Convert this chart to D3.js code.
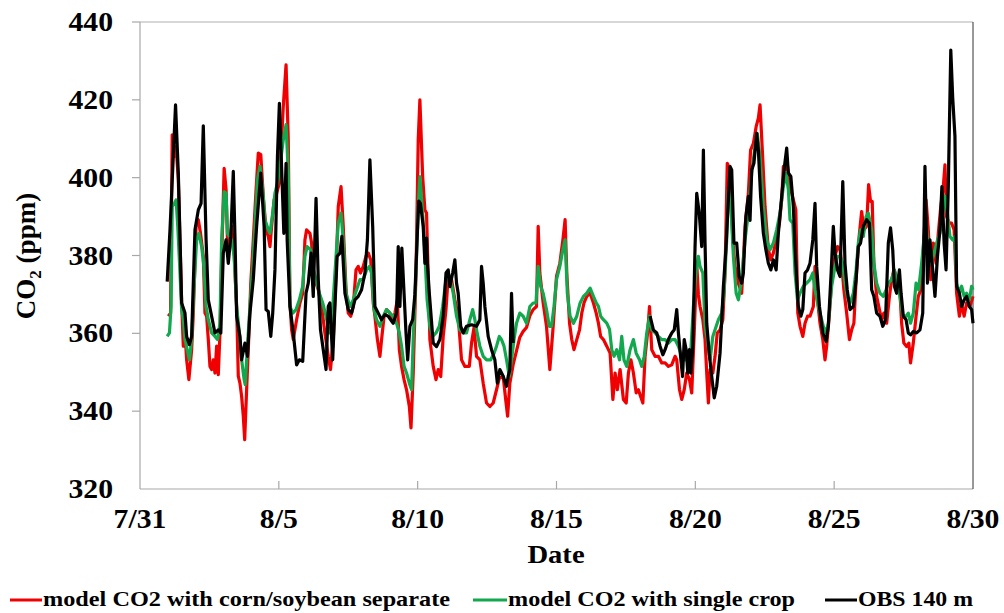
<!DOCTYPE html>
<html><head><meta charset="utf-8">
<script src="https://cdn.jsdelivr.net/npm/d3@7"></script>
<style>body{margin:0;background:#fff}svg{display:block}text{font-family:"Liberation Serif","Times New Roman",serif;font-weight:bold;fill:#000}</style>
</head><body>
<svg id="c" width="1004" height="613"></svg>
<script>
// ---- data (days since 7/31 00:00, CO2 ppm) ----
const xTickDays = [0, 5, 10, 15, 20, 25, 30];
const xTickLabels = ["7/31", "8/5", "8/10", "8/15", "8/20", "8/25", "8/30"];
const yTicks = [320, 340, 360, 380, 400, 420, 440];
const seriesNames = ["model CO2 with corn/soybean separate", "model CO2 with single crop", "OBS 140 m"];

const sepTime = [1.02,1.10,1.16,1.22,1.30,1.38,1.44,1.50,1.56,1.62,1.68,1.76,1.86,1.92,2.02,2.10,2.18,2.28,2.34,2.40,2.46,2.52,2.58,2.64,2.70,2.76,2.82,2.88,2.94,3.03,3.10,3.15,3.22,3.30,3.39,3.48,3.54,3.60,3.66,3.72,3.77,3.84,3.90,3.99,4.08,4.18,4.26,4.35,4.44,4.54,4.62,4.68,4.74,4.83,4.92,5.02,5.16,5.26,5.34,5.40,5.46,5.52,5.64,5.76,5.86,5.94,6.00,6.12,6.18,6.24,6.34,6.42,6.54,6.66,6.78,6.86,6.96,7.06,7.14,7.24,7.32,7.42,7.50,7.59,7.68,7.78,7.86,7.94,8.04,8.14,8.22,8.31,8.40,8.46,8.55,8.64,8.70,8.79,8.88,9.00,9.12,9.18,9.27,9.34,9.42,9.51,9.60,9.70,9.76,9.84,9.94,10.02,10.08,10.18,10.26,10.32,10.38,10.44,10.56,10.66,10.74,10.83,10.92,11.02,11.10,11.22,11.34,11.46,11.58,11.70,11.86,11.94,12.03,12.12,12.24,12.36,12.48,12.60,12.72,12.84,12.94,13.08,13.17,13.24,13.32,13.44,13.56,13.68,13.80,13.92,14.04,14.16,14.28,14.34,14.40,14.52,14.64,14.76,14.88,15.00,15.12,15.23,15.31,15.37,15.47,15.55,15.63,15.73,15.83,15.91,15.99,16.09,16.21,16.33,16.43,16.51,16.59,16.69,16.81,16.93,17.03,17.11,17.19,17.29,17.41,17.51,17.59,17.68,17.77,17.87,17.95,18.03,18.11,18.19,18.28,18.35,18.43,18.55,18.67,18.79,18.91,19.03,19.15,19.27,19.33,19.43,19.51,19.60,19.69,19.79,19.87,19.96,20.05,20.11,20.17,20.27,20.35,20.41,20.47,20.53,20.63,20.71,20.79,20.89,20.99,21.07,21.15,21.25,21.35,21.43,21.55,21.67,21.79,21.91,21.99,22.09,22.19,22.27,22.33,22.43,22.51,22.63,22.72,22.81,22.91,23.03,23.11,23.17,23.23,23.32,23.41,23.53,23.62,23.69,23.77,23.87,23.95,24.04,24.13,24.25,24.31,24.40,24.49,24.59,24.67,24.73,24.83,24.91,25.03,25.12,25.21,25.27,25.35,25.45,25.55,25.63,25.71,25.81,25.91,25.99,26.07,26.17,26.24,26.31,26.37,26.43,26.53,26.63,26.71,26.79,26.89,26.99,27.07,27.15,27.25,27.35,27.43,27.51,27.61,27.69,27.75,27.85,27.95,28.03,28.12,28.21,28.31,28.39,28.48,28.57,28.67,28.75,28.84,28.93,28.99,29.05,29.15,29.23,29.32,29.41,29.51,29.59,29.68,29.77,29.89,30.00];
const sepCO2 = [364.4,365.2,411.0,405.4,408.0,399.4,384.0,367.8,356.7,360.1,353.2,348.1,355.8,365.2,387.5,389.2,385.7,379.8,365.2,364.4,358.4,351.5,350.7,353.2,349.8,356.7,349.4,360.1,378.9,402.4,396.9,384.0,382.3,387.5,380.6,366.9,349.0,347.2,343.8,338.7,332.7,345.5,355.8,372.9,384.0,396.9,406.3,405.9,395.2,386.6,384.9,382.3,387.5,394.3,396.0,398.6,418.3,429.0,409.7,367.8,361.0,358.4,363.5,367.8,370.3,384.0,386.6,385.7,383.2,375.5,372.9,371.2,366.9,360.1,354.1,350.7,358.4,375.5,392.6,397.7,387.5,371.2,365.2,364.4,366.9,376.3,377.2,375.5,377.2,379.8,380.6,378.9,367.8,364.4,358.4,354.1,358.4,364.4,366.1,365.2,363.5,365.2,368.6,355.8,351.5,348.1,345.5,341.2,335.7,349.8,375.5,409.7,420.0,400.3,391.7,390.9,374.6,358.4,351.5,348.1,350.7,348.9,359.2,366.1,374.6,373.8,368.6,364.3,353.2,351.5,351.5,357.5,361.5,354.1,353.2,347.2,342.1,341.2,342.1,345.5,348.5,348.9,343.0,338.7,347.2,352.0,355.5,359.0,360.5,361.5,364.5,366.1,366.9,387.5,375.5,367.8,361.8,350.7,361.8,374.6,378.0,384.0,389.2,375.5,362.6,358.4,355.8,358.4,360.9,365.2,367.8,369.5,370.3,367.8,365.2,362.6,359.2,358.4,356.7,354.9,343.0,349.8,345.5,350.7,343.0,342.1,349.8,353.2,349.8,344.7,345.5,343.8,342.1,354.1,360.1,366.9,355.8,354.1,354.1,352.4,352.4,351.5,351.9,354.1,353.2,345.5,343.0,345.5,349.8,348.1,344.7,360.1,378.0,370.0,366.9,363.5,358.4,349.8,342.1,350.7,349.8,354.1,360.1,360.9,363.5,375.5,403.7,402.0,384.0,377.2,372.9,370.3,387.5,396.0,407.1,408.8,413.1,415.3,418.7,404.6,392.6,381.5,378.9,380.6,384.0,388.3,394.3,402.9,402.0,402.9,397.7,394.3,391.7,365.2,361.8,359.2,362.6,364.4,364.4,366.9,377.2,368.6,362.6,358.4,353.2,356.7,365.2,373.8,379.8,382.3,381.4,378.0,371.2,365.2,358.4,360.9,362.6,376.3,385.7,391.3,386.6,387.5,398.2,393.9,393.9,378.0,369.5,366.1,363.5,365.2,362.6,369.5,373.8,376.3,374.6,372.9,362.6,357.5,356.6,357.5,352.4,357.5,364.4,369.5,371.2,381.4,394.3,386.6,373.8,383.2,378.0,385.7,392.6,397.7,403.3,390.0,388.3,388.3,386.6,370.3,364.4,367.8,364.4,367.8,366.9,369.5];

const singleTime = [0.98,1.06,1.12,1.16,1.24,1.30,1.36,1.44,1.50,1.56,1.62,1.70,1.78,1.86,1.94,2.04,2.12,2.22,2.30,2.38,2.46,2.58,2.70,2.79,2.88,2.94,3.03,3.10,3.15,3.22,3.30,3.39,3.48,3.58,3.66,3.75,3.79,3.87,3.96,4.06,4.14,4.23,4.32,4.42,4.50,4.62,4.68,4.78,4.86,4.95,5.04,5.16,5.26,5.34,5.40,5.50,5.62,5.74,5.86,5.94,6.02,6.14,6.22,6.34,6.46,6.58,6.70,6.82,6.90,7.02,7.14,7.24,7.32,7.42,7.56,7.68,7.80,7.92,8.04,8.16,8.26,8.34,8.43,8.52,8.64,8.76,8.88,9.00,9.12,9.24,9.34,9.42,9.51,9.60,9.70,9.78,9.84,9.94,10.02,10.08,10.18,10.26,10.34,10.44,10.54,10.66,10.78,10.90,11.02,11.10,11.18,11.28,11.40,11.52,11.64,11.76,11.88,11.98,12.06,12.14,12.24,12.36,12.48,12.63,12.75,12.84,12.94,13.02,13.11,13.20,13.30,13.38,13.47,13.56,13.68,13.80,13.92,14.04,14.16,14.26,14.34,14.43,14.52,14.64,14.74,14.82,14.91,15.00,15.12,15.23,15.31,15.39,15.49,15.61,15.73,15.85,15.97,16.09,16.21,16.33,16.43,16.51,16.59,16.69,16.81,16.91,16.99,17.07,17.17,17.27,17.35,17.43,17.53,17.65,17.77,17.87,17.99,18.07,18.16,18.25,18.35,18.43,18.55,18.67,18.79,18.91,19.03,19.15,19.27,19.39,19.51,19.63,19.75,19.84,19.93,20.03,20.11,20.17,20.27,20.35,20.43,20.53,20.63,20.71,20.83,20.95,21.03,21.13,21.19,21.27,21.37,21.47,21.55,21.67,21.79,21.91,22.03,22.15,22.23,22.33,22.45,22.57,22.69,22.81,22.93,23.05,23.17,23.27,23.35,23.41,23.51,23.59,23.68,23.77,23.89,24.01,24.13,24.23,24.31,24.40,24.49,24.61,24.71,24.79,24.91,25.03,25.12,25.21,25.31,25.39,25.47,25.57,25.69,25.79,25.87,25.95,26.05,26.15,26.23,26.35,26.43,26.53,26.65,26.77,26.87,26.95,27.07,27.17,27.27,27.37,27.47,27.59,27.67,27.75,27.85,27.95,28.04,28.15,28.24,28.31,28.39,28.48,28.57,28.69,28.81,28.91,28.99,29.08,29.17,29.27,29.35,29.41,29.51,29.59,29.68,29.77,29.87,29.95,30.00];
const singleCO2 = [359.2,360.1,366.9,392.6,393.4,394.3,387.5,375.5,366.1,363.5,358.4,355.8,353.2,358.4,371.2,384.0,385.7,382.3,377.2,366.9,363.5,360.1,359.2,358.4,362.6,384.0,396.4,396.0,385.7,384.9,384.0,379.8,366.9,360.1,353.2,348.1,346.8,356.7,366.9,377.2,387.5,399.4,402.9,396.9,389.2,386.6,385.7,390.9,396.0,398.6,402.9,409.7,413.6,401.2,366.9,365.2,366.1,368.6,372.1,379.8,382.3,381.5,377.2,373.8,370.3,367.8,364.4,360.1,361.8,375.5,388.3,390.9,384.0,370.3,366.9,368.6,371.2,373.8,373.8,376.3,377.2,375.5,366.1,363.5,361.8,364.4,366.1,365.2,364.4,362.6,360.1,356.7,351.5,349.8,347.2,345.5,358.4,375.5,392.6,400.3,390.9,380.6,368.6,361.8,359.2,360.1,361.8,366.9,373.8,375.5,373.8,370.3,364.4,360.9,360.1,360.1,363.5,366.1,363.5,360.1,356.7,354.1,353.2,353.2,354.9,356.7,359.2,358.4,356.7,353.2,348.9,353.2,358.4,362.6,365.2,364.4,362.6,366.9,367.8,367.8,377.2,372.1,370.3,366.1,361.8,361.8,366.9,373.8,377.2,381.5,384.0,370.3,364.4,362.6,364.4,367.8,369.5,370.3,371.6,369.5,367.8,366.9,364.4,363.5,362.6,361.0,355.8,354.1,355.8,353.2,359.2,353.2,351.5,355.8,358.4,354.9,353.2,351.5,354.1,360.1,364.4,360.9,360.1,359.2,358.4,358.4,357.5,358.4,358.4,356.7,354.1,353.2,354.1,355.8,366.9,376.3,379.8,377.2,375.5,361.8,358.4,353.2,359.2,360.9,363.5,365.2,370.3,384.0,396.9,394.3,379.8,370.3,368.6,373.8,384.0,390.9,401.2,408.0,411.4,405.4,392.6,384.0,381.5,383.2,386.6,390.9,397.7,401.2,396.9,389.2,388.3,375.5,368.6,370.3,372.1,372.9,373.8,375.5,371.2,367.8,365.2,361.8,360.1,362.6,372.1,377.2,379.8,379.8,378.0,372.9,369.5,367.8,370.3,376.3,383.2,386.6,384.9,390.0,390.9,386.6,378.0,372.9,370.3,369.5,371.2,372.9,373.8,376.3,372.9,369.5,364.4,364.4,365.2,362.6,365.2,372.9,371.2,378.0,384.9,388.3,382.3,378.0,379.8,383.2,385.7,390.9,395.2,390.9,384.9,384.0,384.9,372.9,370.3,372.1,369.5,370.3,368.6,372.1,371.2];

// observations (null = no data)
const obsTime = [0.98,1.08,1.14,1.28,1.38,1.50,1.62,1.68,1.78,1.86,1.98,2.10,2.20,2.28,2.38,2.46,2.58,2.70,2.82,2.91,3.00,3.10,3.18,3.27,3.36,3.42,3.48,3.60,3.66,3.78,3.87,3.96,4.08,4.20,4.35,4.47,4.54,4.62,4.71,4.78,4.86,4.95,5.02,5.14,5.18,5.26,5.30,5.40,5.52,5.64,5.74,5.86,5.98,6.06,6.16,6.24,6.34,6.42,6.50,6.60,6.70,6.78,6.84,6.94,7.02,7.10,7.20,7.27,7.38,7.50,7.62,7.74,7.86,7.98,8.10,8.19,8.28,8.38,8.46,8.58,8.70,8.82,8.94,9.12,9.24,9.30,9.36,9.43,9.51,9.58,9.64,9.72,9.82,9.90,9.99,10.04,10.10,10.20,10.26,10.32,10.35,10.42,10.56,10.68,10.80,10.92,11.02,11.10,11.16,11.26,11.34,11.40,11.46,11.55,11.64,11.76,11.94,12.12,12.24,12.30,12.36,12.42,12.54,12.66,12.78,12.87,12.96,13.08,13.20,13.26,13.32,13.38,13.44,15.90,18.37,18.49,18.61,18.73,18.83,18.91,19.03,19.15,19.24,19.33,19.39,19.48,19.54,19.60,19.67,19.73,19.79,19.84,19.91,19.99,20.05,20.14,20.23,20.29,20.35,20.41,20.50,20.59,20.68,20.77,20.89,21.01,21.10,21.19,21.25,21.31,21.39,21.49,21.58,21.67,21.73,21.82,21.91,21.97,22.03,22.11,22.21,22.27,22.35,22.45,22.54,22.63,22.72,22.81,22.91,22.99,23.11,23.21,23.29,23.35,23.44,23.53,23.59,23.65,23.71,23.80,23.87,23.95,24.04,24.13,24.23,24.31,24.37,24.47,24.59,24.71,24.79,24.89,24.97,25.03,25.12,25.21,25.31,25.39,25.47,25.57,25.69,25.79,25.87,25.95,26.05,26.17,26.27,26.35,26.43,26.53,26.65,26.75,26.85,26.95,27.03,27.11,27.17,27.25,27.35,27.41,27.49,27.59,27.67,27.75,27.85,27.97,28.09,28.19,28.27,28.36,28.45,28.55,28.63,28.72,28.81,28.88,28.96,29.03,29.11,29.20,29.27,29.35,29.41,29.51,29.59,29.68,29.77,29.87,29.95,30.00];
const obsCO2 = [373.3,386.6,396.0,418.7,401.2,367.8,365.2,359.2,357.1,359.2,386.6,391.7,393.4,413.3,384.0,368.6,364.4,360.1,360.9,360.1,380.6,384.0,378.0,384.9,401.6,384.9,364.4,359.2,353.2,357.5,354.1,365.2,373.8,387.5,401.2,387.5,366.1,365.6,359.2,365.2,376.3,405.4,419.1,394.3,385.7,403.7,384.0,366.9,360.1,351.9,353.2,352.8,370.3,372.9,380.6,369.5,394.7,373.8,360.9,355.8,350.7,366.9,367.8,353.2,366.9,379.8,380.6,384.9,370.3,366.1,365.2,368.6,369.5,371.2,375.5,384.0,404.6,387.5,366.9,365.2,363.5,364.8,364.4,362.6,365.2,382.3,366.9,381.9,370.3,360.1,353.2,361.8,363.5,370.0,386.0,394.0,393.4,387.5,378.0,384.5,378.0,370.3,357.5,356.6,358.4,364.3,375.5,376.3,372.0,375.5,378.9,372.9,370.3,361.8,360.1,361.8,362.2,361.8,363.5,377.2,372.9,366.9,359.2,355.8,353.2,347.2,350.7,349.0,346.4,349.0,350.7,370.3,357.5,null,364.4,360.9,360.1,356.7,354.5,355.8,358.4,360.1,360.9,366.1,360.1,353.2,348.9,358.4,355.8,349.8,355.8,349.8,356.7,382.3,396.0,390.9,382.3,407.1,383.2,362.6,354.9,348.9,343.4,346.4,354.9,372.0,381.5,394.3,402.9,402.0,383.2,383.2,374.6,372.9,375.5,390.0,395.2,389.0,402.0,403.7,411.4,407.1,395.2,385.7,381.5,378.0,376.3,378.9,376.3,385.7,395.2,402.9,407.6,401.2,400.3,392.6,382.3,373.8,366.9,364.4,366.1,375.5,376.3,378.0,384.0,393.4,377.2,366.9,360.1,357.9,361.8,375.5,387.5,380.6,376.3,374.6,399.0,378.0,371.2,366.1,366.9,373.8,382.3,383.2,387.5,389.2,388.3,371.2,369.5,365.2,364.4,361.8,363.5,383.2,387.1,381.4,372.1,370.3,376.3,370.3,364.4,363.5,360.1,359.6,360.5,360.1,360.9,365.2,402.9,372.9,384.0,376.3,369.5,379.8,386.6,397.7,383.2,376.3,397.7,432.8,420.4,410.6,372.1,370.3,366.9,368.6,369.5,366.9,366.1,362.6];

// ---- drawing ----
const svg = d3.select("#c");
const plot = {left: 140, right: 973, top: 22, bottom: 489};
const x = d3.scaleLinear().domain([0, 30]).range([plot.left, plot.right]);
const y = d3.scaleLinear().domain([320, 440]).range([plot.bottom, plot.top]);
const colors = ["#f00000", "#12a84e", "#000000"];

// frame
svg.append("line").attr("x1", plot.left).attr("x2", plot.right).attr("y1", plot.top).attr("y2", plot.top).attr("stroke", "#b0b0b0").attr("stroke-width", 1.2);
svg.append("line").attr("x1", plot.left).attr("x2", plot.left).attr("y1", plot.top).attr("y2", plot.bottom).attr("stroke", "#a8a8a8").attr("stroke-width", 1.2);
svg.append("line").attr("x1", plot.left).attr("x2", plot.right).attr("y1", plot.bottom).attr("y2", plot.bottom).attr("stroke", "#a8a8a8").attr("stroke-width", 1.2);
svg.append("line").attr("x1", plot.right).attr("x2", plot.right).attr("y1", plot.top).attr("y2", plot.bottom).attr("stroke", "#555").attr("stroke-width", 1.2);

// y ticks + labels
yTicks.forEach(v => {
  if (v > 320) svg.append("line").attr("x1", plot.left - 8).attr("x2", plot.left).attr("y1", y(v)).attr("y2", y(v)).attr("stroke", "#a8a8a8").attr("stroke-width", 1.2);
  svg.append("g").attr("transform", `translate(113,${y(v) + 9}) scale(1.1,1)`)
    .append("text").attr("text-anchor", "end").style("font-size", "27px").text(v);
});
// x ticks + labels
xTickDays.forEach((d, i) => {
  if (d > 0 && d < 30) svg.append("line").attr("x1", x(d)).attr("x2", x(d)).attr("y1", plot.bottom - 8).attr("y2", plot.bottom).attr("stroke", "#a8a8a8").attr("stroke-width", 1.2);
  svg.append("g").attr("transform", `translate(${x(d)},528) scale(1.1,1)`)
    .append("text").attr("text-anchor", "middle").style("font-size", "27px").text(xTickLabels[i]);
});
// axis titles
svg.append("g").attr("transform", "translate(556,563) scale(1.1,1)")
  .append("text").attr("text-anchor", "middle").style("font-size", "26px").text("Date");
const yt = svg.append("text").attr("transform", "translate(35,256) rotate(-90)").attr("text-anchor", "middle").style("font-size", "27px");
yt.append("tspan").text("CO");
yt.append("tspan").attr("dy", 6).style("font-size", "17px").text("2");
yt.append("tspan").attr("dy", -6).text(" (ppm)");

// lines
const line = d3.line().defined(d => d[1] !== null).x(d => x(d[0])).y(d => y(d[1]));
const series = [
  d3.zip(sepTime, sepCO2),
  d3.zip(singleTime, singleCO2),
  d3.zip(obsTime, obsCO2)
];
series.forEach((s, i) => {
  svg.append("path").datum(s).attr("d", line).attr("fill", "none")
    .attr("stroke", colors[i]).attr("stroke-width", 3.2).attr("stroke-linejoin", "round");
});

// legend
const legend = [
  {x1: 10, x2: 42, tx: 43, tw: 407},
  {x1: 473, x2: 507, tx: 508, tw: 287},
  {x1: 825, x2: 857, tx: 858, tw: 115}
];
legend.forEach((l, i) => {
  svg.append("line").attr("x1", l.x1).attr("x2", l.x2).attr("y1", 600).attr("y2", 600).attr("stroke", colors[i]).attr("stroke-width", 3);
  svg.append("text").attr("x", l.tx).attr("y", 606).style("font-size", "22px")
    .attr("textLength", l.tw).attr("lengthAdjust", "spacingAndGlyphs").text(seriesNames[i]);
});
</script>
</body></html>
